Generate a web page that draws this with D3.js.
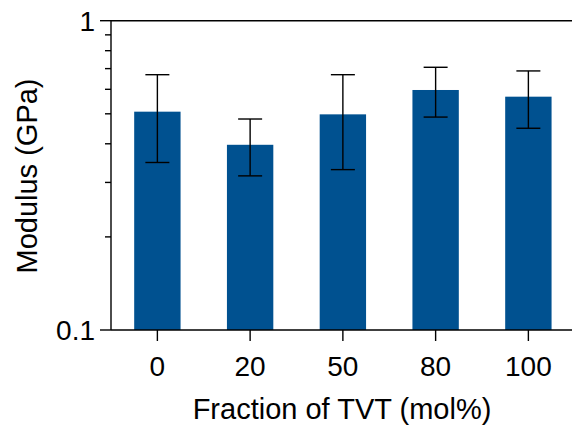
<!DOCTYPE html>
<html><head><meta charset="utf-8">
<script src="https://cdn.jsdelivr.net/npm/d3@7"></script>
<style>
html,body{margin:0;padding:0;background:#fff;}
text{font-family:"Liberation Sans",Arial,Helvetica,sans-serif;fill:#000;}
</style></head>
<body><svg id="c" width="572" height="425"></svg>
<script>
const categories = ["0","20","50","80","100"];
const modulus = [0.508, 0.397, 0.498, 0.597, 0.568];
const errLow  = [0.348, 0.315, 0.330, 0.488, 0.449];
const errHigh = [0.669, 0.481, 0.669, 0.707, 0.688];
const yTicks = [0.1, 1];
const yTickLabels = ["0.1", "1"];
const yMinor = [0.2,0.3,0.4,0.5,0.6,0.7,0.8,0.9];

const svg = d3.select("#c");
const L = 111, T = 20.7, B = 330, R = 574.75;
const x = d3.scaleBand().domain(categories).range([L, R]).paddingInner(0.5).paddingOuter(0.25);
const y = d3.scaleLog().domain([0.1, 1]).range([B, T]);
const color = "#005190";

// bars
svg.selectAll("rect.bar").data(categories).join("rect")
  .attr("class","bar")
  .attr("x", d => x(d)).attr("width", x.bandwidth())
  .attr("y", (d,i) => y(modulus[i])).attr("height", (d,i) => B - y(modulus[i]))
  .attr("fill", color);

// error bars
const cap = 12;
const eg = svg.append("g").attr("stroke","#000").attr("stroke-width",1.4);
categories.forEach((c,i) => {
  const cx = x(c) + x.bandwidth()/2;
  eg.append("line").attr("x1",cx).attr("x2",cx).attr("y1",y(errLow[i])).attr("y2",y(errHigh[i]));
  eg.append("line").attr("x1",cx-cap).attr("x2",cx+cap).attr("y1",y(errLow[i])).attr("y2",y(errLow[i]));
  eg.append("line").attr("x1",cx-cap).attr("x2",cx+cap).attr("y1",y(errHigh[i])).attr("y2",y(errHigh[i]));
});

// axes
const ax = svg.append("g").attr("stroke","#000").attr("stroke-width",1.4);
ax.append("line").attr("x1",L).attr("x2",L).attr("y1",T).attr("y2",B);
ax.append("line").attr("x1",L).attr("x2",572).attr("y1",B).attr("y2",B);
ax.append("line").attr("x1",L).attr("x2",572).attr("y1",T).attr("y2",T);
yTicks.forEach(v => ax.append("line").attr("x1",L-11).attr("x2",L).attr("y1",y(v)).attr("y2",y(v)));
yMinor.forEach(v => ax.append("line").attr("x1",L-6).attr("x2",L).attr("y1",y(v)).attr("y2",y(v)));
categories.forEach(c => {
  const cx = x(c) + x.bandwidth()/2;
  ax.append("line").attr("x1",cx).attr("x2",cx).attr("y1",B).attr("y2",B+11);
});

// labels
yTicks.forEach((v,i) => svg.append("text").attr("x",L-16).attr("y",y(v)+10)
  .attr("text-anchor","end").attr("font-size",28).text(yTickLabels[i]));
categories.forEach(c => svg.append("text").attr("x",x(c)+x.bandwidth()/2).attr("y",376)
  .attr("text-anchor","middle").attr("font-size",28).text(c));

svg.append("text").attr("x",342).attr("y",419).attr("text-anchor","middle")
  .attr("font-size",29).text("Fraction of TVT (mol%)");
svg.append("text").attr("transform","translate(37,176) rotate(-90)").attr("text-anchor","middle")
  .attr("font-size",29).text("Modulus (GPa)");
</script></body></html>
